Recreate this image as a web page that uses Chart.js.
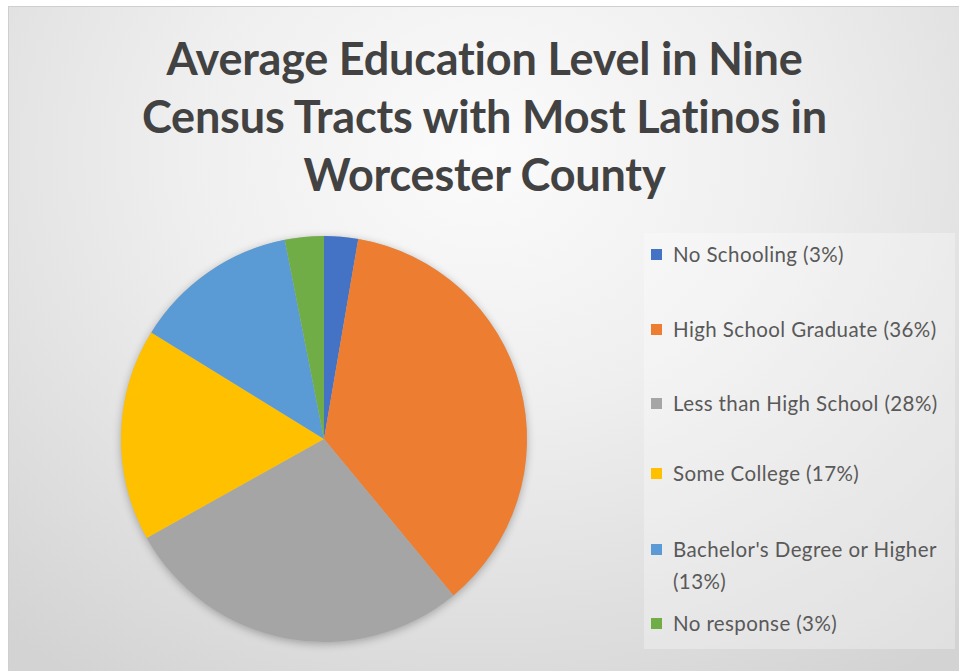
<!DOCTYPE html>
<html>
<head>
<meta charset="utf-8">
<script src="https://cdn.jsdelivr.net/npm/chart.js@4/dist/chart.umd.min.js"></script>
<style>
    html, body { margin: 0; padding: 0; background: #fff; }
    #frame {
        position: absolute; left: 8px; top: 6px; width: 951px; height: 665px;
        background: radial-gradient(ellipse 78% 95% at 50% 22%, #fbfbfb 0%, #efefef 40%, #d3d3d3 100%);
        border-top: 1px solid #cfcfcf; border-left: 1px solid #cfcfcf;
        box-sizing: border-box;
    }
    #title {
        position: absolute; left: 0; top: 22px; width: 951px; text-align: center;
        font-family: Lato, "Open Sans", sans-serif; font-weight: bold; font-size: 45px;
        line-height: 58px; color: #424242; letter-spacing: -0.2px;
    }
    #legendBox {
        position: absolute; left: 635px; top: 226px; width: 311px; height: 416px;
        background: rgba(255,255,255,0.3);
    }
    .legendItem {
        position: absolute; left: 7px; width: 300px;
        font-family: Lato, sans-serif; font-size: 20.5px; line-height: 32px; color: #595959;
        letter-spacing: 0.4px;
    }
    .legendItem span.mark {
        position: absolute; left: 0; top: 11px; width: 11px; height: 11px;
    }
    .legendItem div { margin-left: 22px; }
    canvas { position: absolute; left: 0; top: 0; }
</style>
</head>
<body>
<div id="frame">
    <div id="title">Average Education Level in Nine<br>Census Tracts with Most Latinos in<br>Worcester County</div>
    <div id="legendBox"></div>
    <canvas id="eduChart"></canvas>
</div>

<script>
// slice shares
const labels = ['No Schooling', 'High School Graduate', 'Less than High School', 'Some College', "Bachelor's Degree or Higher", 'No response'];
const shares = [2.7, 36.3, 27.9, 16.9, 13.1, 3.1];
// percentages as printed in the legend
const legendPercents = [3, 36, 28, 17, 13, 3];
const colors = ['#4472C4', '#ED7D31', '#A5A5A5', '#FFC000', '#5B9BD5', '#70AD47'];

// legend first-line centre, relative to the legend box
const legendRows = [21, 96, 170, 240, 316, 390];

const box = document.getElementById('legendBox');
labels.forEach((lab, i) => {
    const item = document.createElement('div');
    item.className = 'legendItem';
    item.style.top = (legendRows[i] - 16) + 'px';
    item.innerHTML = '<span class="mark" style="background:' + colors[i] + '"></span><div>' + lab + ' (' + legendPercents[i] + '%)</div>';
    box.appendChild(item);
});

// soft shadow under the pie, like the office chart
const pieShadow = {
    id: 'pieShadow',
    beforeDatasetsDraw(chart) {
        const arc = chart.getDatasetMeta(0).data[0];
        if (!arc) return;
        const ctx = chart.ctx;
        ctx.save();
        ctx.beginPath();
        ctx.arc(arc.x, arc.y, arc.outerRadius, 0, Math.PI * 2);
        ctx.shadowColor = 'rgba(0,0,0,0.28)';
        ctx.shadowBlur = 9;
        ctx.shadowOffsetY = 2;
        ctx.fillStyle = '#bbb';
        ctx.fill();
        ctx.restore();
    }
};

const canvas = document.getElementById('eduChart');
canvas.width = 951;
canvas.height = 665;
canvas.style.width = '951px';
canvas.style.height = '665px';

new Chart(canvas.getContext('2d'), {
    type: 'pie',
    data: {
        labels: labels,
        datasets: [{
            data: shares,
            backgroundColor: colors,
            borderWidth: 0,
            hoverOffset: 0
        }]
    },
    options: {
        responsive: false,
        animation: false,
        layout: { padding: { left: 112, right: 433, top: 229, bottom: 30 } },
        plugins: {
            legend: { display: false },
            title: { display: false },
            tooltip: { enabled: false }
        }
    },
    plugins: [pieShadow]
});
</script>
</body>
</html>
